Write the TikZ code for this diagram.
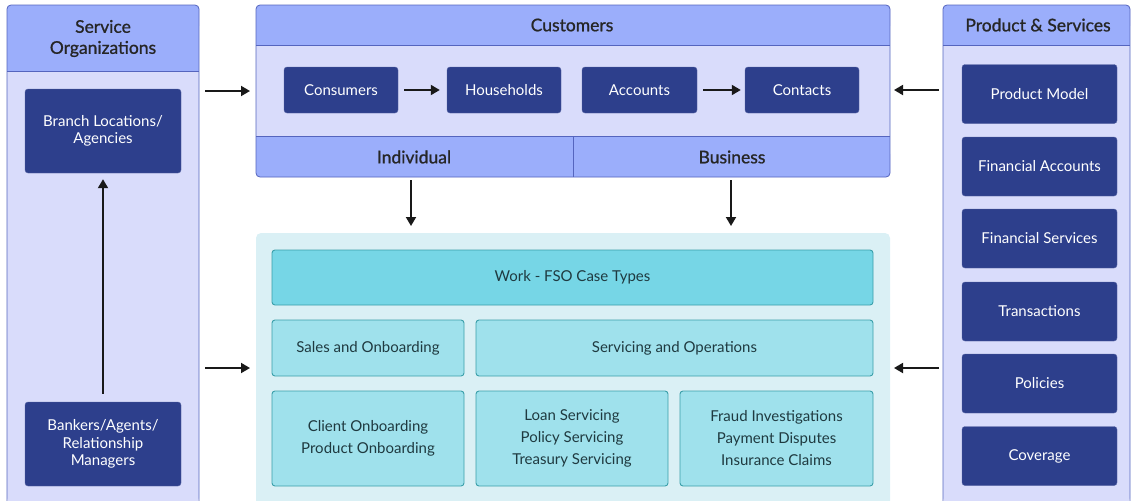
\documentclass[tikz,border=0pt]{standalone}
\usepackage{fontspec}
\setmainfont{Lato}
\newfontfamily\hdfont{Lato}[FakeBold=1.0]
\usetikzlibrary{arrows.meta}
\definecolor{hdr}{HTML}{9BAEFB}
\definecolor{pbody}{HTML}{D9DCFB}
\definecolor{pline}{HTML}{5565BE}
\definecolor{dark}{HTML}{2D3F8C}
\definecolor{wbg}{HTML}{DAF0F5}
\definecolor{wtop}{HTML}{76D6E6}
\definecolor{wbox}{HTML}{9FE1EC}
\definecolor{wline}{HTML}{3A9FAA}
\definecolor{wtext}{HTML}{1F3A40}
\begin{document}
\begin{tikzpicture}[x=1pt,y=-1pt,
  dbox/.style={fill=dark,draw=dark!80!white,rounded corners=3pt,text=white,font=\fontsize{15}{17.5}\selectfont,align=center},
  cbox/.style={fill=wbox,draw=wline,line width=0.9pt,rounded corners=3pt,text=wtext,font=\fontsize{15}{22}\selectfont,align=center},
  hd/.style={text=black!85,font=\hdfont\fontsize{17.5}{21}\selectfont,align=center},
  arr/.style={-{Triangle[length=9pt,width=10pt]},line width=1.8pt,black!90}]
\useasboundingbox (0,0) rectangle (1136,501);
% left panel
\fill[pbody,rounded corners=4pt] (7,5) rectangle (199,502);
\fill[hdr,rounded corners=4pt] (7,5) rectangle (199,30);
\fill[hdr] (7,20) rectangle (199,71);
\draw[pline,line width=0.8pt] (7,71) -- (199,71);
\draw[pline,line width=0.8pt,rounded corners=4pt] (7,502) -- (7,5) -- (199,5) -- (199,502);
\node[hd] (so) at (103,38.5) {Service\\Organizations};
% customers panel
\fill[pbody,rounded corners=4pt] (256,5) rectangle (890,177);
\fill[hdr,rounded corners=4pt] (256,5) rectangle (890,30);
\fill[hdr] (256,20) rectangle (890,45);
\fill[hdr,rounded corners=4pt] (256,150) rectangle (890,177);
\fill[hdr] (256,136) rectangle (890,160);
\draw[pline,line width=0.8pt] (256,45) -- (890,45) (256,136) -- (890,136) (573,136) -- (573,177);
\draw[pline,line width=0.8pt,rounded corners=4pt] (256,5) rectangle (890,177);
\node[hd] (cust) at (572,25) {Customers};
\node[hd] (ind) at (414,157) {Individual};
\node[hd] (bus) at (732,157) {Business};
% right panel
\fill[pbody,rounded corners=4pt] (943,5) rectangle (1130,502);
\fill[hdr,rounded corners=4pt] (943,5) rectangle (1130,30);
\fill[hdr] (943,20) rectangle (1130,45);
\draw[pline,line width=0.8pt] (943,45) -- (1130,45);
\draw[pline,line width=0.8pt,rounded corners=4pt] (943,502) -- (943,5) -- (1130,5) -- (1130,502);
\node[hd] (ps) at (1038,25) {Product \& Services};
% bottom panel
\fill[wbg,rounded corners=5pt] (256,233) rectangle (890,506);
% dark boxes left
\node[dbox,minimum width=156pt,minimum height=84pt] (branch) at (103,131) {Branch Locations/\\Agencies};
\node[dbox,minimum width=156pt,minimum height=84pt] (bank) at (103,444) {Bankers/Agents/\\Relationship\\Managers};
% customers boxes
\node[dbox,minimum width=114pt,minimum height=46pt] (cons) at (341,90) {Consumers};
\node[dbox,minimum width=114pt,minimum height=46pt] (hh) at (504,90) {Households};
\node[dbox,minimum width=115pt,minimum height=46pt] (acc) at (639.5,90) {Accounts};
\node[dbox,minimum width=114pt,minimum height=46pt] (cont) at (802,90) {Contacts};
% right boxes
\node[dbox,minimum width=155pt,minimum height=59pt] (pm) at (1039.5,94) {Product Model};
\node[dbox,minimum width=155pt,minimum height=59pt] (fa) at (1039.5,166.5) {Financial Accounts};
\node[dbox,minimum width=155pt,minimum height=59pt] (fs) at (1039.5,238.5) {Financial Services};
\node[dbox,minimum width=155pt,minimum height=59pt] (tr) at (1039.5,311.5) {Transactions};
\node[dbox,minimum width=155pt,minimum height=59pt] (pol) at (1039.5,383.5) {Policies};
\node[dbox,minimum width=155pt,minimum height=59pt] (cov) at (1039.5,456) {Coverage};
% work boxes
\node[cbox,fill=wtop,minimum width=601pt,minimum height=55pt] (work) at (572.5,277.5) {Work - FSO Case Types};
\node[cbox,minimum width=192pt,minimum height=56pt] (sales) at (368,348) {Sales and Onboarding};
\node[cbox,minimum width=397pt,minimum height=56pt] (serv) at (674.5,348) {Servicing and Operations};
\node[cbox,minimum width=192pt,minimum height=95pt] (client) at (368,438.5) {Client Onboarding\\Product Onboarding};
\node[cbox,minimum width=192pt,minimum height=95pt] (loan) at (572,438.5) {Loan Servicing\\Policy Servicing\\Treasury Servicing};
\node[cbox,minimum width=193pt,minimum height=95pt] (fraud) at (776.5,438.5) {Fraud Investigations\\Payment Disputes\\Insurance Claims};
% arrows
\draw[arr] (bank.north) ++(0,-8) -- ([yshift=-6pt]branch.south);
\draw[arr] (cons.east) ++(6,0) -- ([xshift=-7pt]hh.west);
\draw[arr] (acc.east) ++(6,0) -- ([xshift=-4pt]cont.west);
\coordinate (l1) at (205,91); \coordinate (l1e) at (250,91);
\coordinate (l2) at (205,368); \coordinate (l2e) at (250,368);
\coordinate (r1) at (939,90); \coordinate (r1e) at (894,90);
\coordinate (r2) at (939,368); \coordinate (r2e) at (894,368);
\coordinate (d1) at (411,180); \coordinate (d1e) at (411,226);
\coordinate (d2) at (731,180); \coordinate (d2e) at (731,226);
\draw[arr] (l1) -- (l1e);
\draw[arr] (l2) -- (l2e);
\draw[arr] (r1) -- (r1e);
\draw[arr] (r2) -- (r2e);
\draw[arr] (d1) -- (d1e);
\draw[arr] (d2) -- (d2e);
\end{tikzpicture}
\end{document}
